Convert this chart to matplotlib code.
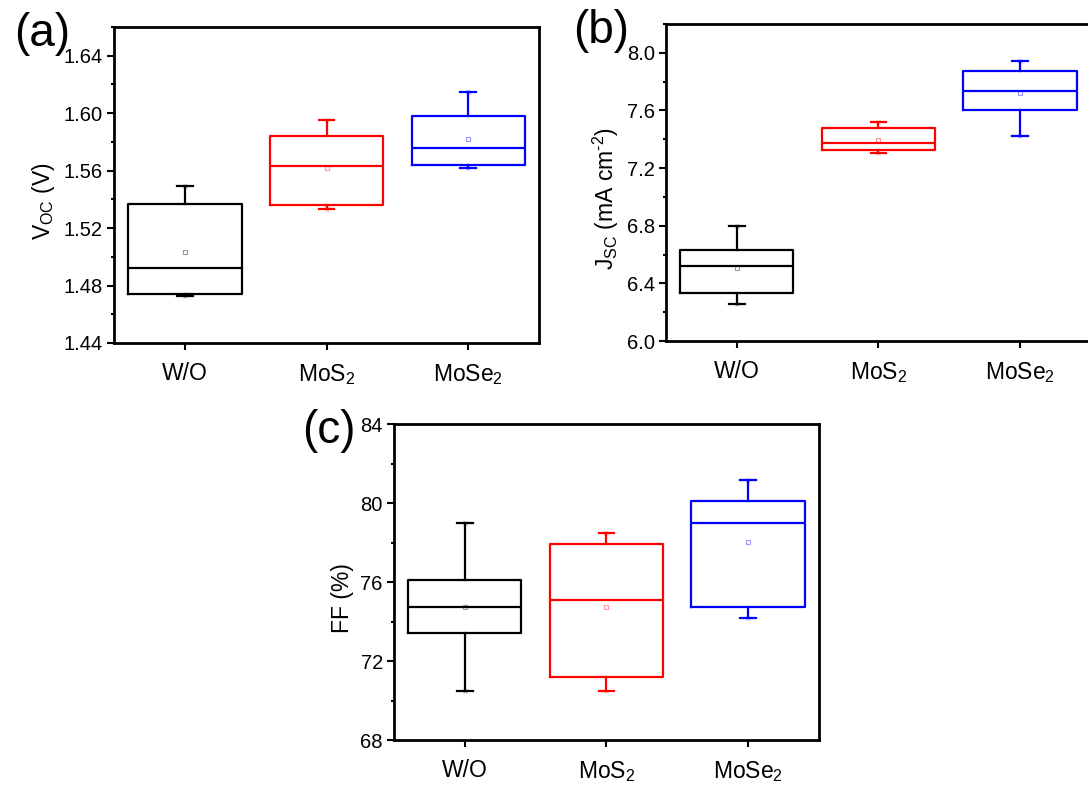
import matplotlib
matplotlib.use("Agg")
import matplotlib.pyplot as plt
from matplotlib.ticker import MultipleLocator, AutoMinorLocator, FormatStrFormatter

plt.rcParams['font.family'] = ['Liberation Sans', 'DejaVu Sans']
plt.rcParams['mathtext.fontset'] = 'custom'
plt.rcParams['mathtext.rm'] = 'Liberation Sans'
plt.rcParams['mathtext.it'] = 'Liberation Sans:italic'
plt.rcParams['mathtext.default'] = 'regular'

# sample names and colours
groups = ['W/O', 'MoS$_2$', 'MoSe$_2$']
colors = ['#000000', '#ff0000', '#0000ff']

# box statistics: whisker low, q1, median, q3, whisker high, mean
voc_lo = [1.473, 1.533, 1.562]
voc_q1 = [1.474, 1.536, 1.564]
voc_med = [1.492, 1.563, 1.576]
voc_q3 = [1.537, 1.584, 1.598]
voc_hi = [1.549, 1.595, 1.615]
voc_mean = [1.503, 1.562, 1.582]

jsc_lo = [6.26, 7.306, 7.42]
jsc_q1 = [6.33, 7.326, 7.60]
jsc_med = [6.523, 7.375, 7.738]
jsc_q3 = [6.63, 7.48, 7.877]
jsc_hi = [6.80, 7.52, 7.94]
jsc_mean = [6.507, 7.394, 7.718]

ff_lo = [70.5, 70.5, 74.2]
ff_q1 = [73.4, 71.2, 74.72]
ff_med = [74.75, 75.1, 79.0]
ff_q3 = [76.1, 77.9, 80.1]
ff_hi = [79.0, 78.5, 81.15]
ff_mean = [74.75, 74.72, 78.04]


def make_stats(lo, q1, med, q3, hi, mean):
    return [dict(whislo=lo[i], q1=q1[i], med=med[i], q3=q3[i], whishi=hi[i],
                 mean=mean[i], fliers=[]) for i in range(len(lo))]


def draw_panel(ax, stats, ylim, major, ylabel, label_x, tag, tag_x):
    pos = [1, 2, 3]
    art = ax.bxp(stats, positions=pos, widths=0.8, capwidths=0.11,
                 showmeans=True, patch_artist=False,
                 meanprops=dict(marker='s', markersize=3.5, markerfacecolor='none',
                                markeredgewidth=0.8, linestyle='none'))
    for i, c in enumerate(colors):
        art['boxes'][i].set(color=c, linewidth=1.6)
        art['medians'][i].set(color=c, linewidth=1.6)
        art['means'][i].set(markeredgecolor=c, alpha=0.4)
        for k in (2 * i, 2 * i + 1):
            art['whiskers'][k].set(color=c, linewidth=1.6)
            art['caps'][k].set(color=c, linewidth=1.6)
        ax.plot([pos[i], pos[i]], [stats[i]['whislo'], stats[i]['whishi']],
                linestyle='none', marker='x', markersize=3, color=c, alpha=0.25)
    ax.set_xlim(0.5, 3.5)
    ax.set_ylim(*ylim)
    ax.yaxis.set_major_locator(MultipleLocator(major))
    ax.yaxis.set_minor_locator(AutoMinorLocator(2))
    ax.set_xticks(pos)
    ax.set_xticklabels(groups, fontsize=16.5)
    ax.tick_params(axis='both', which='both', direction='out', top=False, right=False, width=1.5)
    ax.tick_params(axis='y', which='major', length=5, labelsize=14.5, pad=3)
    ax.tick_params(axis='y', which='minor', length=2.5)
    ax.tick_params(axis='x', which='major', length=5, pad=9)
    for s in ax.spines.values():
        s.set_linewidth(2)
    ax.set_ylabel(ylabel, fontsize=16.5)
    ax.yaxis.set_label_coords(label_x, 0.45)
    ax.text(tag_x, 0.978, tag, transform=ax.transAxes, fontsize=33, ha='left', va='center')


fig = plt.figure(figsize=(10.88, 7.89), dpi=100)
ax_a = fig.add_axes([0.1048, 0.5653, 0.3906, 0.4005])
ax_b = fig.add_axes([0.6121, 0.5678, 0.3906, 0.4018])
ax_c = fig.add_axes([0.3621, 0.0621, 0.3906, 0.4005])

draw_panel(ax_a, make_stats(voc_lo, voc_q1, voc_med, voc_q3, voc_hi, voc_mean),
           (1.44, 1.66), 0.04, 'V$_{OC}$ (V)', -0.134, '(a)', -0.235)
ax_a.yaxis.set_major_formatter(FormatStrFormatter('%.2f'))
draw_panel(ax_b, make_stats(jsc_lo, jsc_q1, jsc_med, jsc_q3, jsc_hi, jsc_mean),
           (6.0, 8.2), 0.4, 'J$_{SC}$ (mA cm$^{\\text{-}2}$)', -0.106, '(b)', -0.219)
ax_b.yaxis.set_major_formatter(FormatStrFormatter('%.1f'))
draw_panel(ax_c, make_stats(ff_lo, ff_q1, ff_med, ff_q3, ff_hi, ff_mean),
           (68, 84), 4, 'FF (%)', -0.094, '(c)', -0.216)

fig.savefig('out.png', dpi=100)
